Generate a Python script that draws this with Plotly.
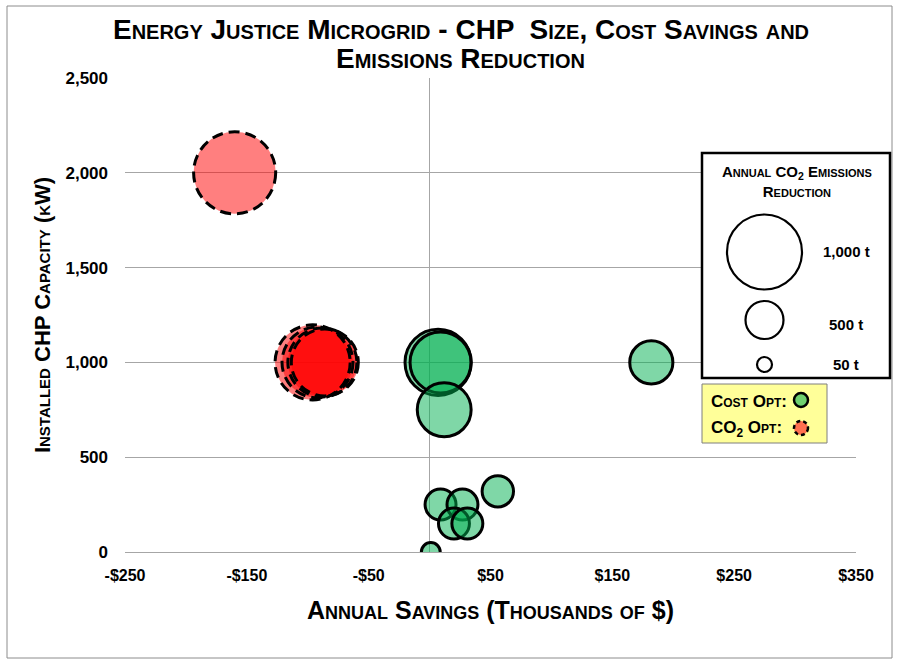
import plotly.graph_objects as go

# ---------------- data ----------------
cost_savings = [1, 9, 27, 20, 31, 56, 7, 9, 12, 182]          # $k
cost_capacity = [0, 250, 250, 150, 150, 320, 1000, 1000, 750, 1000]  # kW
cost_co2 = [65, 175, 175, 175, 175, 180, 800, 680, 530, 340]  # t CO2

co2_savings = [-160, -96, -92, -88, -86]
co2_capacity = [2000, 1000, 1000, 1000, 1000]
co2_co2 = [1230, 1030, 920, 870, 820]

x_tickvals = [-250, -150, -50, 50, 150, 250, 350]
x_ticktext = ["-$250", "-$150", "-$50", "$50", "$150", "$250", "$350"]
legend_sizes = ["1,000 t", "500 t", "50 t"]

# 1,000 t -> 74 px marker diameter
SIZEREF = 2 * 1000 / (74 ** 2)


def diam(v):
    # plotly 'area' sizemode marker diameter
    return (2 * v / SIZEREF) ** 0.5


FONT = "Liberation Sans, Arial, sans-serif"

fig = go.Figure()

fig.add_trace(go.Scatter(
    x=cost_savings, y=cost_capacity, mode="markers",
    marker=dict(size=cost_co2, sizemode="area", sizeref=SIZEREF, opacity=1,
                color="rgba(0,176,80,0.5)",
                line=dict(color="black", width=3)),
    showlegend=False, hoverinfo="x+y"))

fig.add_trace(go.Scatter(
    x=co2_savings, y=co2_capacity, mode="markers",
    marker=dict(size=co2_co2, sizemode="area", sizeref=SIZEREF, opacity=1,
                color="rgba(255,0,0,0.5)",
                line=dict(color="rgba(0,0,0,0)", width=0)),
    showlegend=False, hoverinfo="x+y"))

shapes = []
# dashed outlines for CO2-optimal bubbles
for sx, cy, v in zip(co2_savings, co2_capacity, co2_co2):
    r = diam(v) / 2
    shapes.append(dict(type="circle", xref="x", yref="y",
                       xsizemode="pixel", ysizemode="pixel",
                       xanchor=sx, yanchor=cy,
                       x0=-r, x1=r, y0=-r, y1=r,
                       line=dict(color="black", width=3, dash="11px,6px"),
                       layer="above"))

# plot area geometry (px)
L, R, T, B = 125, 856, 78, 552
W, H = R - L, B - T


def px_x(px):
    return (px - L) / W


def px_y(py):
    return (B - py) / H


# outer chart border
shapes.append(dict(type="rect", xref="paper", yref="paper",
                   x0=px_x(7), x1=px_x(892), y0=px_y(6), y1=px_y(658),
                   line=dict(color="#8c8c8c", width=1), layer="below"))

# size legend box
shapes.append(dict(type="rect", xref="paper", yref="paper",
                   x0=px_x(702), x1=px_x(890), y0=px_y(378), y1=px_y(153),
                   fillcolor="white", line=dict(color="black", width=2.5),
                   layer="above"))
for cy, r in [(252, 37.5), (320, 19), (364.5, 7.5)]:
    shapes.append(dict(type="circle", xref="paper", yref="paper",
                       xsizemode="pixel", ysizemode="pixel",
                       xanchor=px_x(764.5), yanchor=px_y(cy),
                       x0=-r, x1=r, y0=-r, y1=r,
                       line=dict(color="black", width=2.2), layer="above"))

# colour key box
shapes.append(dict(type="rect", xref="paper", yref="paper",
                   x0=px_x(702), x1=px_x(827), y0=px_y(443), y1=px_y(384),
                   fillcolor="#FFFF99", line=dict(color="#7f7f7f", width=1),
                   layer="above"))
shapes.append(dict(type="circle", xref="paper", yref="paper",
                   xsizemode="pixel", ysizemode="pixel",
                   xanchor=px_x(801), yanchor=px_y(400),
                   x0=-7, x1=7, y0=-7, y1=7, fillcolor="#70D070",
                   line=dict(color="black", width=2.5), layer="above"))
shapes.append(dict(type="circle", xref="paper", yref="paper",
                   xsizemode="pixel", ysizemode="pixel",
                   xanchor=px_x(801), yanchor=px_y(428),
                   x0=-7, x1=7, y0=-7, y1=7, fillcolor="#FF7050",
                   line=dict(color="black", width=2.5, dash="4px,3px"),
                   layer="above"))

annotations = [
    dict(text="Emissions Reduction", xref="paper", yref="paper",
         x=px_x(460), y=px_y(59),
         showarrow=False, xanchor="center", yanchor="middle",
         font=dict(family=FONT, size=28, color="black", weight="bold",
                   variant="small-caps")),
    dict(text="Annual CO<sub>2</sub> Emissions<br>Reduction",
         xref="paper", yref="paper", x=px_x(797), y=px_y(181),
         showarrow=False, xanchor="center", yanchor="middle",
         font=dict(family=FONT, size=15, color="black", weight="bold",
                   variant="small-caps")),
]
for lab, cy in zip(legend_sizes, [252, 324, 364]):
    annotations.append(dict(text=lab, xref="paper", yref="paper",
                            x=px_x(846), y=px_y(cy), showarrow=False,
                            xanchor="center", yanchor="middle",
                            font=dict(family=FONT, size=15, color="black",
                                      weight="bold")))
annotations.append(dict(text="Cost Opt:", xref="paper", yref="paper",
                        x=px_x(709), y=px_y(401), showarrow=False,
                        xanchor="left", yanchor="middle",
                        font=dict(family=FONT, size=17, color="black",
                                  weight="bold", variant="small-caps")))
annotations.append(dict(text="CO<sub>2</sub> Opt:", xref="paper", yref="paper",
                        x=px_x(709), y=px_y(429), showarrow=False,
                        xanchor="left", yanchor="middle",
                        font=dict(family=FONT, size=17, color="black",
                                  weight="bold", variant="small-caps")))

fig.update_layout(
    width=904, height=659,
    margin=dict(l=L, r=904 - R, t=T, b=659 - B),
    paper_bgcolor="white", plot_bgcolor="white",
    title=dict(text="Energy Justice Microgrid - CHP  Size, Cost Savings and",
               x=461 / 904, xanchor="center", y=1 - 29 / 659, yanchor="middle",
               font=dict(family=FONT, size=28, color="black", weight="bold",
                         variant="small-caps")),
    xaxis=dict(range=[-250, 350], tickvals=x_tickvals, ticktext=x_ticktext,
               showgrid=False, zeroline=True, zerolinecolor="#A6A6A6",
               zerolinewidth=1.3, showline=False, ticks="",
               ticklabelstandoff=12,
               tickfont=dict(family=FONT, size=16, color="black", weight="bold"),
               title=dict(text="Annual Savings (Thousands of $)", standoff=18,
                          font=dict(family=FONT, size=25, color="black",
                                    weight="bold", variant="small-caps"))),
    yaxis=dict(range=[0, 2500], dtick=500, tickformat=",",
               showgrid=True, gridcolor="#A6A6A6", gridwidth=1.3,
               zeroline=True, zerolinecolor="#A6A6A6", zerolinewidth=1.3,
               ticks="", ticklabelstandoff=16,
               tickfont=dict(family=FONT, size=17, color="black", weight="bold"),
               title=dict(text="Installed CHP Capacity (kW)", standoff=8,
                          font=dict(family=FONT, size=22, color="black",
                                    weight="bold", variant="small-caps"))),
    shapes=shapes, annotations=annotations,
)

fig.write_html("out.html", config={"displayModeBar": False},
               post_script="document.body.style.margin='0px';")
